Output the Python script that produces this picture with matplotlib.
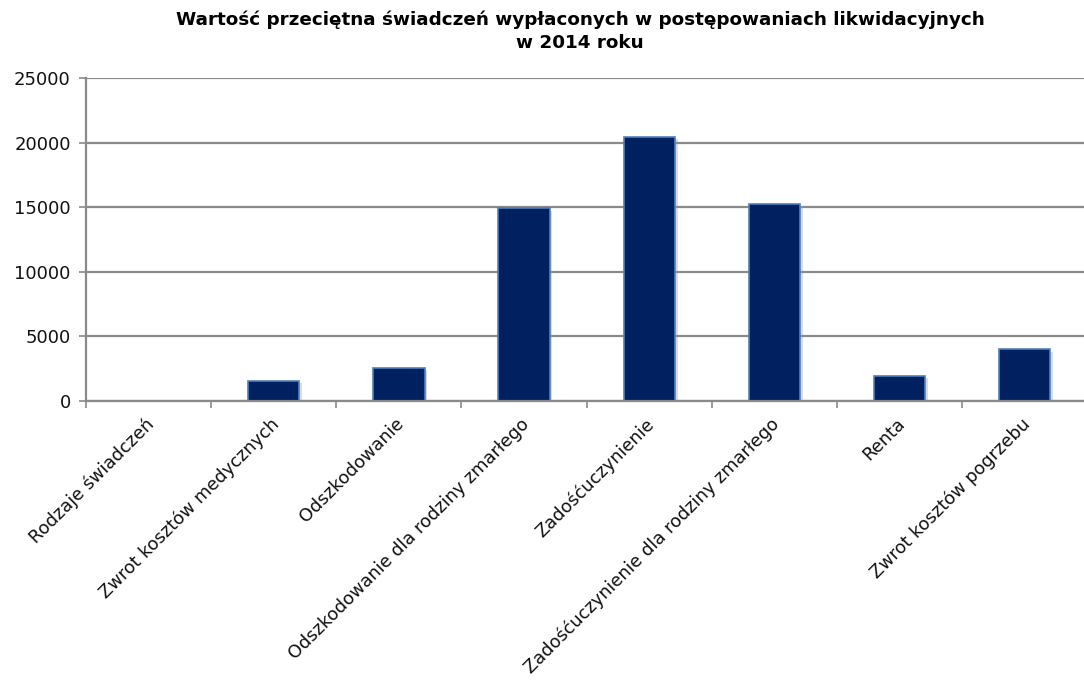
import matplotlib
matplotlib.use("Agg")
import matplotlib.pyplot as plt
import matplotlib.patheffects as pe
import matplotlib.transforms as mtransforms
import numpy as np

categories = [
    "Rodzaje świadczeń",
    "Zwrot kosztów medycznych",
    "Odszkodowanie",
    "Odszkodowanie dla rodziny zmarłego",
    "Zadośćuczynienie",
    "Zadośćuczynienie dla rodziny zmarłego",
    "Renta",
    "Zwrot kosztów pogrzebu",
]
values = [0, 1580, 2580, 14950, 20500, 15300, 1960, 4000]
y_ticks = [0, 5000, 10000, 15000, 20000, 25000]

BAR = "#002060"
EDGE = "#4f81bd"
GRID = "#8a8a8a"

plt.rcParams["font.family"] = ["DejaVu Sans"]

fig = plt.figure(figsize=(10.84, 6.8), dpi=100)
ax = fig.add_axes([0.0793, 0.4103, 0.9237, 0.4743])

x = np.arange(len(categories))
bars = ax.bar(x, values, width=0.41, color=BAR, edgecolor=EDGE, linewidth=1.2, zorder=2)
for b in bars:
    b.set_path_effects([
        pe.SimplePatchShadow(offset=(2, -2), shadow_rgbFace="#999999", alpha=0.35),
        pe.Normal(),
    ])

ax.set_xlim(-0.5, len(categories) - 0.5)
ax.set_ylim(0, 25000)
ax.set_yticks(y_ticks)
ax.set_yticklabels([str(v) for v in y_ticks], fontsize=13, color="#111111")
ax.yaxis.grid(True, color=GRID, linewidth=1.6, zorder=0)
ax.set_axisbelow(True)

# category labels centred, tick marks on the category boundaries
ax.set_xticks(x)
ax.set_xticklabels(categories, rotation=45, ha="right", rotation_mode="anchor",
                   fontsize=12.8, color="#111111")
ax.tick_params(axis="x", which="major", length=0, pad=10)
shift = mtransforms.ScaledTranslation(-4 / 100, 0, fig.dpi_scale_trans)
for lbl in ax.get_xticklabels():
    lbl.set_transform(lbl.get_transform() + shift)
ax.set_xticks(np.arange(len(categories) + 1) - 0.5, minor=True)
ax.tick_params(axis="x", which="minor", length=5, width=1.2, color=GRID, direction="out")
ax.tick_params(axis="y", length=5, width=1.2, color=GRID, pad=6)

for side in ("top", "right"):
    ax.spines[side].set_visible(False)
for side in ("left", "bottom"):
    ax.spines[side].set_color(GRID)
    ax.spines[side].set_linewidth(1.6)
    ax.spines[side].set_zorder(2.5)

fig.text(0.535, 0.985,
         "Wartość przeciętna świadczeń wypłaconych w postępowaniach likwidacyjnych\nw 2014 roku",
         ha="center", va="top", fontsize=13.2, fontweight="bold", linespacing=1.35)

fig.savefig("out.png", dpi=100)
